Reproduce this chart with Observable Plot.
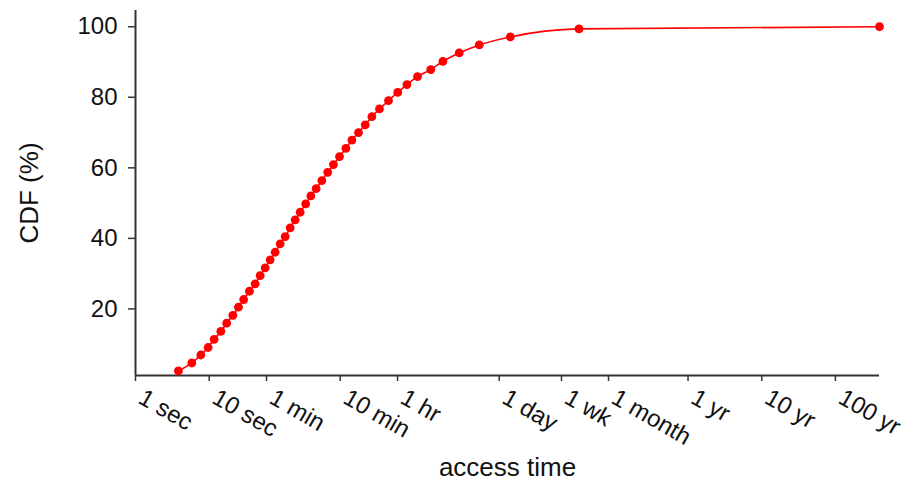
<!DOCTYPE html>
<html>
<head>
<meta charset="utf-8">
<script src="https://cdn.jsdelivr.net/npm/d3@7"></script>
<script src="https://cdn.jsdelivr.net/npm/@observablehq/plot@0.6"></script>
<style>
  html, body { margin: 0; padding: 0; background: #fff; }
  #chart svg { display: block; }
</style>
</head>
<body>
<div id="chart"></div>
<script>
// access time in seconds
const accessSeconds = [3.82, 5.81, 7.70, 9.68, 11.67, 14.4, 17.26, 20.95, 24.96, 29.36,
  35.2, 42.06, 49.2, 57.5, 67.2, 78.6, 91.9, 107.5, 125.6, 146.9,
  171.8, 204, 240, 283, 338, 406, 486, 587, 717, 865,
  1063, 1311, 1616, 2049, 2716, 3620, 4827, 6723, 10160, 14880,
  24760, 46340, 122200, 1045000, 12520000000];
// CDF (%)
const cdfPercent = [2.41, 4.68, 6.94, 9.07, 11.39, 13.66, 15.95, 18.19, 20.49, 22.67,
  25.02, 27.12, 29.47, 31.65, 33.92, 36.07, 38.45, 40.52, 42.99, 45.25,
  47.41, 49.79, 52.05, 54.12, 56.39, 58.74, 60.92, 63.19, 65.54, 67.87,
  69.99, 72.17, 74.52, 76.71, 79.06, 81.38, 83.59, 85.86, 87.84, 90.2,
  92.57, 94.84, 97.11, 99.38, 100.0];

const xTickValues = [1, 10, 60, 600, 3600, 86400, 604800, 2629800, 31557600, 315576000, 3155760000];
const xTickLabels = ["1 sec", "10 sec", "1 min", "10 min", "1 hr", "1 day", "1 wk", "1 month", "1 yr", "10 yr", "100 yr"];
const yTickValues = [20, 40, 60, 80, 100];

const xDomain = [1, 1.252e10];
const yDomain = [1.13, 104.6];

const data = accessSeconds.map((s, i) => ({x: s, y: cdfPercent[i]}));
const labelOf = new Map(xTickValues.map((v, i) => [v, xTickLabels[i]]));

const axisColor = "#333";
const textColor = "#111";
const font = "'Liberation Sans', Arial, sans-serif";

const chart = Plot.plot({
  width: 906,
  height: 483,
  marginLeft: 135,
  marginRight: 27,
  marginTop: 10,
  marginBottom: 108,
  style: {fontFamily: font, fontSize: "24px", color: textColor, background: "#fff"},
  x: {type: "log", domain: xDomain, axis: null},
  y: {domain: yDomain, axis: null},
  marks: [
    Plot.ruleX([xDomain[0]], {stroke: axisColor, strokeWidth: 2}),
    Plot.ruleY([yDomain[0]], {stroke: axisColor, strokeWidth: 2}),
    Plot.axisY({ticks: yTickValues, tickSize: 7, tickPadding: 11, stroke: axisColor, strokeWidth: 1.5, label: null, fontSize: 24}),
    Plot.axisX({ticks: xTickValues, tickSize: 6, tickFormat: null, stroke: axisColor, strokeWidth: 1.5, label: null, text: null}),
    Plot.text(xTickValues, {
      x: d => d,
      frameAnchor: "bottom",
      text: d => labelOf.get(d),
      rotate: 30,
      textAnchor: "start",
      lineAnchor: "top",
      dx: 10,
      dy: 12,
      fontSize: 24,
      fill: textColor
    }),
    Plot.text(["access time"], {frameAnchor: "bottom", textAnchor: "middle", lineAnchor: "middle", dy: 92, fontSize: 26, fill: textColor}),
    Plot.text(["CDF (%)"], {frameAnchor: "left", textAnchor: "middle", lineAnchor: "middle", dx: -105.5, rotate: -90, fontSize: 26, fill: textColor}),
    Plot.line(data, {x: "x", y: "y", stroke: "red", strokeWidth: 1.6, curve: "monotone-x"}),
    Plot.dot(data, {x: "x", y: "y", r: 4.4, fill: "red", stroke: "none"})
  ]
});
document.getElementById("chart").append(chart);
</script>
</body>
</html>
